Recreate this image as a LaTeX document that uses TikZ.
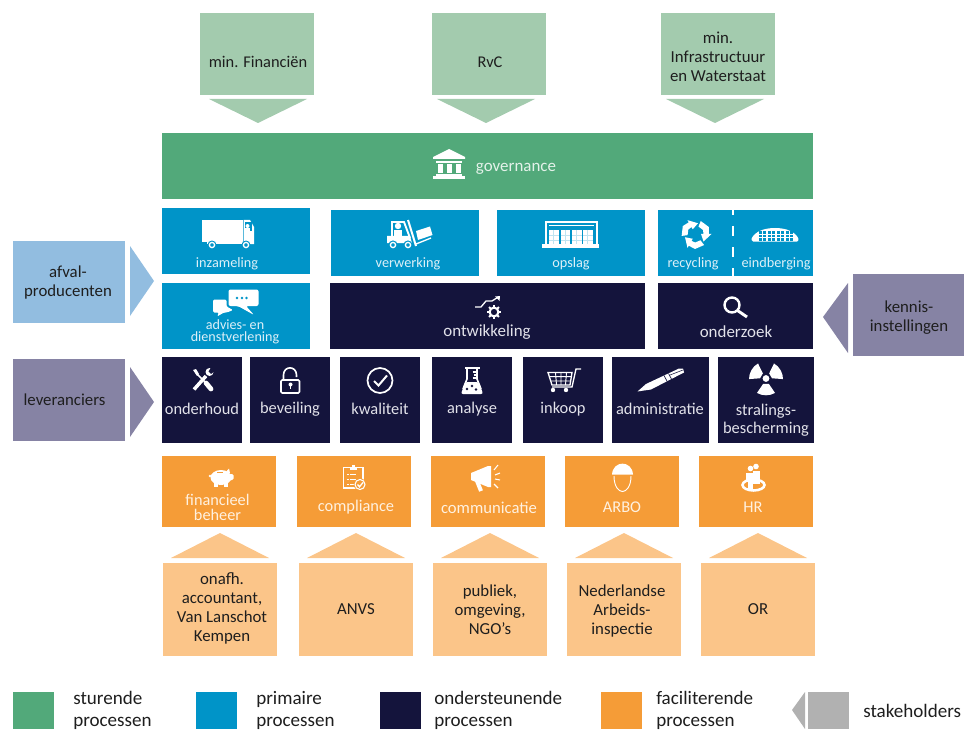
\documentclass[tikz,border=0pt]{standalone}
\usepackage{fontspec}
\setmainfont{Carlito}
\definecolor{cgreen}{HTML}{52A97A}
\definecolor{cblue}{HTML}{0094C8}
\definecolor{cnavy}{HTML}{14143C}
\definecolor{corange}{HTML}{F59C37}
\definecolor{clgreen}{HTML}{A3CBAE}
\definecolor{clblue}{HTML}{92BDE0}
\definecolor{cpurple}{HTML}{8683A4}
\definecolor{clorange}{HTML}{FBC589}
\definecolor{cgray}{HTML}{B1B1B1}
\definecolor{cdark}{HTML}{1E1E1E}
\definecolor{onblue}{HTML}{DDF0F8}
\definecolor{onnavy}{HTML}{E2E2EA}
\definecolor{onorange}{HTML}{FFF1E0}
\definecolor{ongreen}{HTML}{E4F2EA}
\newcommand\fsz[2]{\fontsize{#1}{#2}\selectfont}
\newcommand\bx[7]{%
  \pgfmathsetmacro\bxw{(#4-#2)*0.75}\pgfmathsetmacro\bxh{(#5-#3)*0.75}%
  \node[fill=#6,inner sep=0pt,outer sep=0pt,text=cdark,align=center,font=\fsz{12.6}{14.25},
        minimum width=\bxw pt,minimum height=\bxh pt] (#1) at ({(#2+#4)/2},{(#3+#5)/2}) {#7};}
\tikzset{
  lab/.style={inner sep=0pt,align=center,font=\fsz{12.7}{14}},
  midlab/.style={inner sep=0pt,align=center,font=\fsz{12.3}{14}},
  smalllab/.style={inner sep=0pt,align=center,font=\fsz{10.7}{8.5}},
  darklab/.style={inner sep=0pt,align=center,text=cdark,font=\fsz{12.3}{14.25}},
  ic/.style={fill=white,draw=none},
  legend/.style={inner sep=0pt,anchor=west,align=left,font=\fsz{14.3}{16.8},text=cdark},
}
\begin{document}
\begin{tikzpicture}[x=0.75pt,y=-0.75pt]
\useasboundingbox (0,0) rectangle (964,731);
% top stakeholders
\bx{fin}{200}{13}{314}{95}{clgreen}{}
\bx{rvc}{432}{13}{546}{95}{clgreen}{}
\bx{infra}{661}{13}{775}{95}{clgreen}{}
\node[darklab] (tfin) at (258,62) {min. Financiën};
\node[darklab] (trvc) at (490,62) {RvC};
\node[darklab,font=\fsz{12.6}{14.25}] (tinfra) at (718,57) {min.\\Infrastructuur\\en Waterstaat};
\fill[clgreen] (209,99)--(307,99)--(258,123)--cycle;
\fill[clgreen] (437,99)--(535,99)--(486,123)--cycle;
\fill[clgreen] (666,99)--(764,99)--(715,123)--cycle;
% governance
\bx{gov}{162}{133}{813}{199}{cgreen}{}
\node[lab,text=ongreen] (tgov) at (516,168.5) {governance};
% primary
\bx{inz}{162}{208}{310}{274}{cblue}{}
\bx{ver}{331}{210}{479}{276}{cblue}{}
\bx{ops}{497}{210}{645}{276}{cblue}{}
\bx{rec}{658}{210}{813}{276}{cblue}{}
\bx{adv}{162}{283}{310}{349}{cblue}{}
\node[smalllab,text=onblue] (tinz) at (227,263.5) {inzameling};
\node[smalllab,text=onblue] (tver) at (408,263.5) {verwerking};
\node[smalllab,text=onblue] (tops) at (571,263.5) {opslag};
\node[smalllab,text=onblue] (trec) at (693,263.5) {recycling};
\node[smalllab,text=onblue] (tein) at (776,263.5) {eindberging};
\node[inner sep=0pt,align=center,font=\fsz{10.6}{9.4},text=onblue] (tadv) at (235,332) {advies- en\\dienstverlening};
\draw[white,line width=1.9pt,dash pattern=on 7.5pt off 8.25pt,dash phase=3.75pt] (733,210)--(733,276);
% dev
\bx{ont}{330}{283}{645}{349}{cnavy}{}
\bx{ond}{658}{283}{813}{349}{cnavy}{}
\node[lab,text=onnavy] (tont) at (487,332) {ontwikkeling};
\node[lab,text=onnavy] (tond) at (736,332) {onderzoek};
% supporting
\bx{onh}{162}{357}{242}{443}{cnavy}{}
\bx{bev}{250}{357}{330}{443}{cnavy}{}
\bx{kwa}{340}{357}{420}{443}{cnavy}{}
\bx{ana}{432}{357}{512}{443}{cnavy}{}
\bx{ink}{523}{357}{603}{443}{cnavy}{}
\bx{adm}{612}{357}{709}{443}{cnavy}{}
\bx{str}{718}{357}{814}{443}{cnavy}{}
\node[midlab,text=onnavy] (tonh) at (202,409) {onderhoud};
\node[midlab,text=onnavy] (tbev) at (290,409) {beveiling};
\node[midlab,text=onnavy] (tkwa) at (380,409) {kwaliteit};
\node[midlab,text=onnavy] (tana) at (472,409) {analyse};
\node[midlab,text=onnavy] (tink) at (563,409) {inkoop};
\node[midlab,text=onnavy] (tadm) at (660,409) {administratie};
\node[inner sep=0pt,align=center,font=\fsz{12.3}{13.5},text=onnavy] (tstr) at (766,420) {stralings-\\bescherming};
% facilitating
\bx{fib}{162}{456}{276}{527}{corange}{}
\bx{com}{297}{456}{411}{527}{corange}{}
\bx{cmm}{431}{456}{545}{527}{corange}{}
\bx{arb}{565}{456}{679}{527}{corange}{}
\bx{hrb}{699}{456}{813}{527}{corange}{}
\node[inner sep=0pt,align=center,font=\fsz{12.2}{11.2},text=onorange] (tfib) at (217.5,507) {financieel\\beheer};
\node[midlab,text=onorange] (tcom) at (356,507.5) {compliance};
\node[midlab,font=\fsz{12.5}{14},text=onorange] (tcmm) at (489,507.5) {communicatie};
\node[midlab,text=onorange] (tarb) at (622,507) {ARBO};
\node[midlab,text=onorange] (thr) at (753,507) {HR};
% bottom stakeholders
\fill[clorange] (171,558)--(269,558)--(220,533)--cycle;
\fill[clorange] (307,558)--(405,558)--(356,533)--cycle;
\fill[clorange] (441,558)--(539,558)--(490,533)--cycle;
\fill[clorange] (575,558)--(673,558)--(624,533)--cycle;
\fill[clorange] (709,558)--(807,558)--(758,533)--cycle;
\bx{acc}{163}{563}{277}{656}{clorange}{}
\node[darklab,font=\fsz{12.6}{14.25}] (tacc) at (222,608.5) {onafh.\\accountant,\\Van Lanschot\\Kempen};
\bx{anv}{299}{563}{413}{656}{clorange}{ANVS}
\bx{pub}{433}{563}{547}{656}{clorange}{publiek,\\omgeving,\\NGO's}
\bx{nla}{567}{563}{681}{656}{clorange}{}
\node[darklab,font=\fsz{12.6}{14.25}] (tnla) at (622,611.5) {Nederlandse\\Arbeids-\\inspectie};
\bx{orb}{701}{563}{815}{656}{clorange}{OR}
% side stakeholders
\bx{afv}{13}{241}{125}{323}{clblue}{}
\node[darklab,font=\fsz{12.6}{14.25}] (tafv) at (68,283) {afval-\\producenten};
\fill[clblue] (130,246)--(154,281)--(130,316)--cycle;
\bx{lev}{13}{359}{125}{441}{cpurple}{}
\node[darklab,font=\fsz{12.6}{14.25}] (tlev) at (64.5,400) {leveranciers};
\fill[cpurple] (130,367)--(154,402)--(130,437)--cycle;
\bx{ken}{853}{274}{964}{356}{cpurple}{}
\node[darklab,font=\fsz{12.6}{14.25}] (tken) at (909,317.5) {kennis-\\instellingen};
\fill[cpurple] (848,283)--(823,317)--(848,353)--cycle;
% legend
\bx{l1}{13}{692}{54}{729}{cgreen}{}
\bx{l2}{196}{692}{237}{729}{cblue}{}
\bx{l3}{380}{692}{421}{729}{cnavy}{}
\bx{l4}{601}{692}{642}{729}{corange}{}
\bx{l5}{808}{692}{849}{729}{cgray}{}
\fill[cgray] (805,692)--(792,710)--(805,729)--cycle;
\node[legend] (tl1) at (73,710.5) {sturende\\processen};
\node[legend] (tl2) at (256,710.5) {primaire\\processen};
\node[legend] (tl3) at (434,710.5) {ondersteunende\\processen};
\node[legend] (tl4) at (656,710.5) {faciliterende\\processen};
\node[legend] (tl5) at (863,710.5) {stakeholders};
% ICONS
% governance
\fill[ic] (433,157)--(449,149)--(465,157)--(465,159)--(433,159)--cycle;
\fill[ic] (436,161) rectangle (462,163);
\foreach \c in {440,449,458}{\fill[ic] (\c-2.5,164) rectangle (\c+2.5,173);}
\fill[ic] (436,174) rectangle (462,176);
\fill[ic] (433,176.5) rectangle (465,179);
% truck
\fill[ic] (202,220) rectangle (242.5,241.5);
\fill[ic] (243.5,220)--(250,220)--(254,227)--(254,244)--(243.5,244)--cycle;
\fill[ic] (207,241.5) rectangle (243,243.5);
\fill[cblue] (245,222) rectangle (252,231);
\fill[ic] (247.5,226) circle[radius=2];
\fill[ic] (245,228.5) rectangle (250,233);
\foreach \c in {212,246}{\fill[cblue] (\c,245) circle[radius=4.5];\draw[white,line width=1pt] (\c,245) circle[radius=2.6];}
% forklift
\draw[white,line width=1.4pt] (392,236)--(392,222)--(404,222)--(410,238);
\fill[ic] (398,226) circle[radius=3.2];
\fill[ic] (394,230) rectangle (402,237);
\fill[ic] (387,236)--(410,236)--(412,243)--(387,243)--cycle;
\foreach \c in {393,408}{\fill[cblue] (\c,245) circle[radius=4.6];\draw[white,line width=1pt] (\c,245) circle[radius=2.6];}
\draw[white,line width=1.5pt] (408,220)--(416,246);
\fill[ic] (416,231)--(430,226.5)--(432.5,235)--(418,240)--cycle;
\draw[white,line width=1pt] (416,244)--(431,238);
% warehouse
\draw[white,line width=1.6pt] (546,244)--(546,222)--(597,222)--(597,244);
\draw[white,line width=.6pt] (549,225.5)--(594,225.5);
\fill[ic] (542,244) rectangle (599,248);
\foreach \c in {549,560.5,572,583}{\fill[ic] (\c,230) rectangle (\c+9.5,244);
  \draw[cblue!25,line width=.5pt] (\c,235)--(\c+9.5,235) (\c,240)--(\c+9.5,240) (\c+4.7,230)--(\c+4.7,244);}
% recycle
\foreach \a in {0,120,240}{
 \fill[ic,shift={(695.5,234)}] (\a+172:8)--(\a+172:14)--(\a+212:15)--(\a+240:13.5)--(\a+240:16)--(\a+283:11)--(\a+240:5.5)--(\a+240:8)--(\a+212:8.5)--cycle;}
% dome
\fill[ic] (753,241.5)..controls (750,240) and (752,237) .. (755,234) .. controls (763,226) and (787,226) .. (795,234) .. controls (798,237) and (800,240) .. (797,241.5)--cycle;
\foreach \c in {759,768,777,785.5}{\fill[cblue] (\c,231) rectangle (\c+7,241);\draw[white,line width=.35pt] (\c,234)--(\c+7,234) (\c,237.5)--(\c+7,237.5) (\c+3.5,231)--(\c+3.5,241);}
% chat
\fill[ic,rounded corners=1.5pt] (228.5,289.5)--(258.5,289.5)--(258.5,306)--(246,306)--(254,315)--(238,306)--(228.5,306)--cycle;
\foreach \c in {237,242,246.5}{\fill[cblue] (\c,298) circle[radius=1.4];}
\fill[ic,rounded corners=1pt] (213,299.5)--(226.5,299.5)--(226.5,306.5)--(233,310)--(227,312.5)--(224,312.5)--(217,316.5)--(219,312.5)--(213,312.5)--cycle;
% search
\draw[white,line width=1.8pt] (732,305) circle[radius=7.5];
\draw[white,line width=2.2pt] (737.5,310.5)--(747,317);
% development
\draw[white,line width=1pt] (475,307)--(481,307)--(486,301)--(492,301)--(497.5,297.5);
\fill[ic] (495,296.5)--(500,296)--(499.5,301)--cycle;
\draw[white,line width=1.6pt] (494,312) circle[radius=4.4];
\foreach \a in {0,45,...,315}{\draw[white,line width=1.5pt,shift={(494,312)}] (\a:4.5)--(\a:7);}
% tools
\draw[white,line width=2.6pt] (194,389.5)--(206,376);
\fill[ic] (209.5,372) circle[radius=4];
\fill[cnavy] (208.5,371.5)--(211,367.5)--(215,371)--(211,374)--cycle;
\fill[ic] (193,370)--(196,369)--(199,374)--(197,376)--cycle;
\draw[white,line width=1.2pt] (196,373)--(207,384);
\draw[white,line width=3.6pt,line cap=round] (206,383)--(211,389);
% lock
\draw[white,line width=1.2pt,rounded corners=1pt] (281,380) rectangle (299.5,393);
\draw[white,line width=1.2pt] (283.5,380)--(283.5,375)..controls (283.5,365.5) and (296.5,365.5) .. (296.5,375)--(296.5,377);
\fill[ic] (290.5,384.5) circle[radius=2];
\fill[ic] (289.8,385) rectangle (291.2,389);
% check
\draw[white,line width=1.3pt] (380,380.5) circle[radius=12.5];
\draw[white,line width=1.5pt] (374,381)--(378.5,385.5)--(387,375.5);
% flask
\fill[ic] (464.5,367) rectangle (480,369);
\draw[white,line width=1.2pt] (467,369)--(467,379)--(463,389);
\draw[white,line width=1.2pt] (477,369)--(477,379)--(481,389);
\draw[white,line width=.8pt] (472.5,372)--(476.5,372) (473.5,375)--(476.5,375) (472.5,378)--(476.5,378);
\fill[ic,rounded corners=1.5pt] (465,382)--(479,382)--(483,394)--(461,394)--cycle;
\foreach \p/\q in {467/389,472/386,476/389.5}{\fill[cnavy] (\p,\q) circle[radius=1.3];}
% cart
\draw[white,line width=1pt] (548,372.5)--(572,372.5)--(570,385)--(552,385)--cycle;
\draw[white,line width=.7pt] (549.5,376.7)--(571.5,376.7) (550.5,381)--(571,381) (555.5,372.5)--(556.5,385) (561,372.5)--(561,385) (566.5,372.5)--(565.5,385);
\draw[white,line width=1pt] (552,387)--(572,387)--(576,369)--(581,369);
\foreach \c in {553,566}{\fill[ic] (\c,390) circle[radius=2.2];}
% pen
\fill[ic] (637.5,391.5)--(646,384)--(679,368.5)--(683,368.5)--(684,372.5)--(651,389.5)--(644,390.5)--cycle;
\draw[cnavy,line width=.5pt] (664,375.5)--(668,383) (668.5,373.5)--(672.5,381);
\draw[cnavy,line width=.4pt] (670,375)--(683,370);
% radiation
\fill[ic] (766,378.5) circle[radius=3.4];
\foreach \a in {90,210,330}{\fill[ic,shift={(766,378.5)}] (\a-28:6)--(\a-32:17)..controls (\a-12:18) and (\a+12:18) .. (\a+32:17)--(\a+28:6)--cycle;}
% piggy
\fill[ic] (221,477.5) ellipse[x radius=10.5,y radius=7.5];
\fill[ic] (214,482) rectangle (218,487);
\fill[ic] (224,482) rectangle (228,487);
\fill[ic] (225,473)--(229,468.5)--(230,473)--cycle;
\fill[ic,rounded corners=1pt] (228,474) rectangle (233.5,480);
\fill[ic] (210,476) circle[radius=1.3];
\draw[corange,line width=.5pt] (217,472.5)--(223,472.5);
% clipboard
\draw[white,line width=.8pt] (343.5,467.5) rectangle (363,488);
\fill[ic] (350,466.5) rectangle (356.5,470);
\fill[ic] (352,464.5) rectangle (354.5,467);
\foreach \q in {474,479,484}{\draw[white,line width=.7pt] (346.5,\q)--(348.5,\q) (350,\q)--(356,\q);}
\fill[corange] (360,484.5) circle[radius=6.2];
\draw[white,line width=.8pt] (360,484.5) circle[radius=5];
\draw[white,line width=1pt] (357.5,484.5)--(359.5,486.8)--(363,482.5);
% megaphone
\fill[ic] (471,473)--(488,466)--(491,466)--(491,487)--(488,487)--(471,480)--cycle;
\draw[white,line width=3pt] (477,481)--(481,491);
\draw[white,line width=.8pt] (494,470)--(498,465) (495,475)--(500,473) (495,479)--(500,480) (494,484)--(498,488);
% helmet
\fill[ic] (612,474.5)..controls (613,460) and (632,460) .. (633,474.5)--cycle;
\draw[white,line width=.7pt] (614,476)..controls (614,487) and (619,491.5) .. (622.5,491.5)..controls (626,491.5) and (631,487) .. (631,476);
% HR
\draw[white,line width=1.9pt] (753.5,485) ellipse[x radius=11,y radius=5.5];
\fill[ic] (756,466.5) circle[radius=2.8];
\fill[ic] (752,470.5) rectangle (760,484);
\fill[corange] (751,469) rectangle (753,489);
\fill[ic] (750.5,468.5) circle[radius=2.8];
\fill[ic] (746,472.5) rectangle (754,481);
\fill[ic] (747.5,481) rectangle (752.5,488.5);
\end{tikzpicture}
\end{document}
